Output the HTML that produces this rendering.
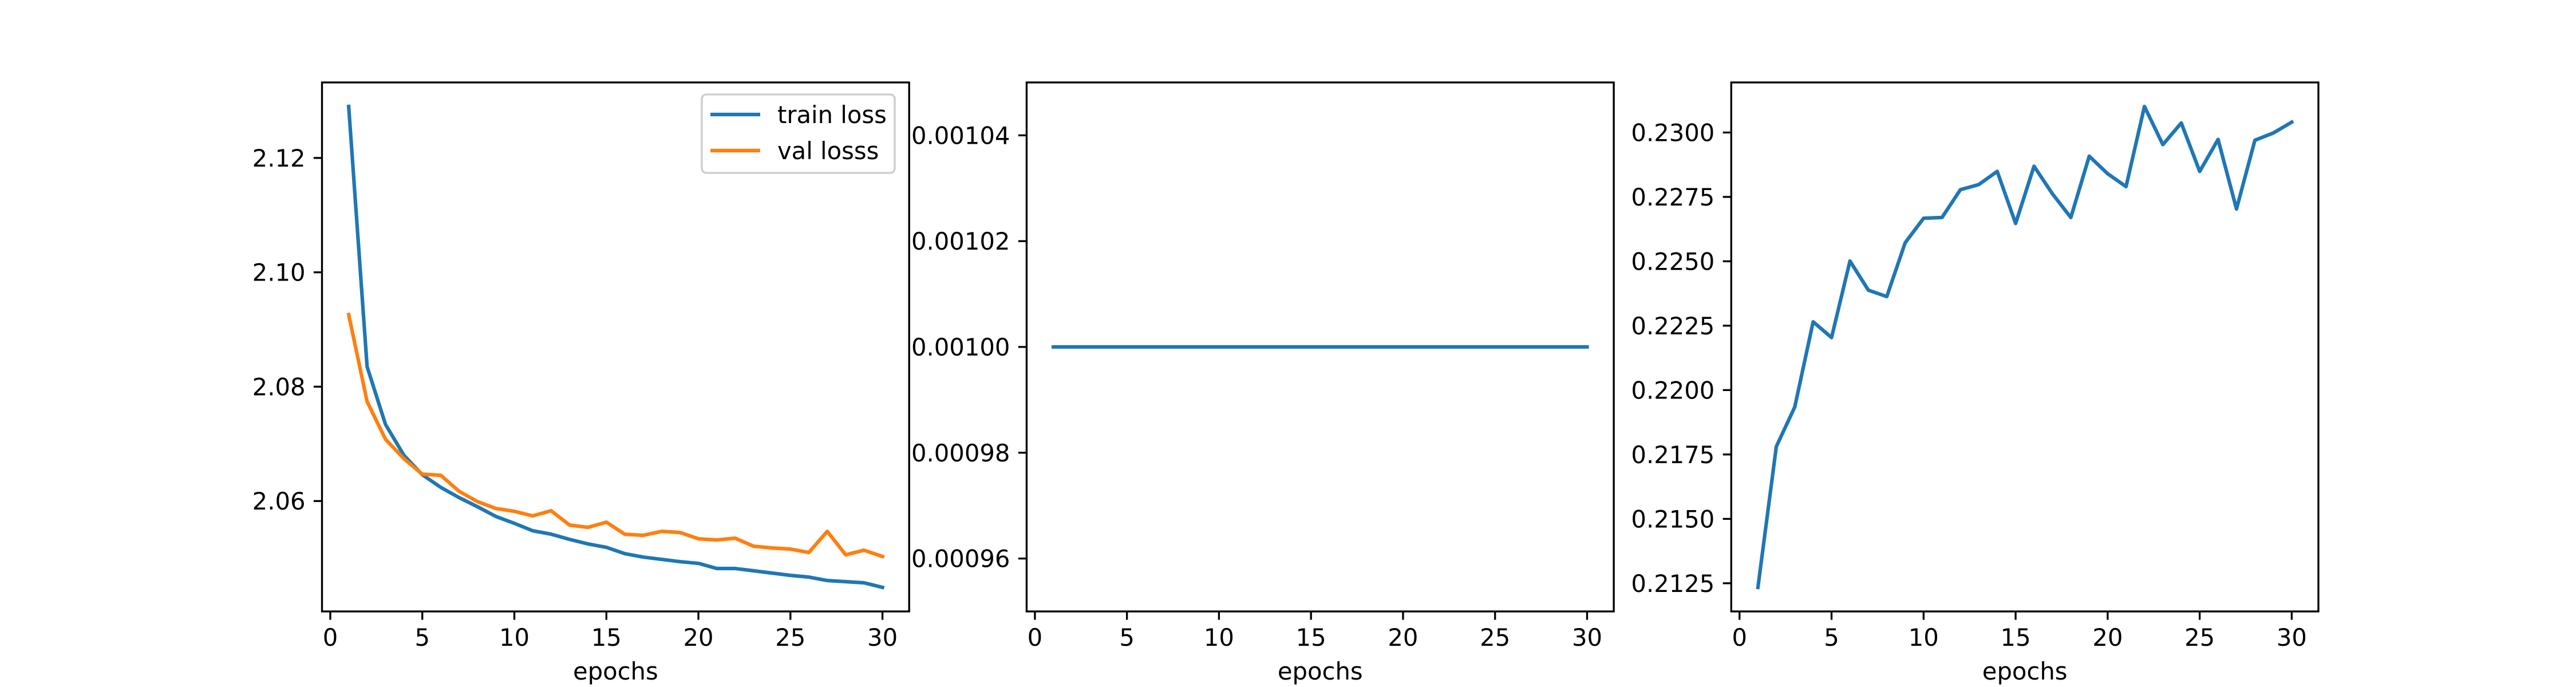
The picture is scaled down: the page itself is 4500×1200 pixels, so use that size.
<!DOCTYPE html>
<html><head><meta charset="utf-8"><style>
html,body{margin:0;padding:0;background:#fff;}
svg{display:block;}
text{font-family:"DejaVu Sans","Liberation Sans",sans-serif;font-size:41.7px;fill:#000;}
</style></head><body>
<svg id="chart" width="4500" height="1200" viewBox="0 0 4500 1200" xmlns="http://www.w3.org/2000/svg"></svg>
<script>
const epochs = Array.from({length:30},(_,i)=>i+1);
const trainLoss = [2.1290,2.0835,2.0734,2.0680,2.0646,2.0624,2.0606,2.0590,2.0573,2.0561,2.0548,2.0542,2.0533,2.0525,2.0519,2.0508,2.0502,2.0498,2.0494,2.0491,2.0482,2.0482,2.0478,2.0474,2.0470,2.0467,2.0461,2.0459,2.0457,2.0449];
const valLoss = [2.0926,2.0774,2.0708,2.0674,2.0647,2.0645,2.0617,2.0599,2.0587,2.0582,2.0574,2.0583,2.0558,2.0554,2.0563,2.0542,2.0540,2.0547,2.0545,2.0534,2.0532,2.0535,2.0521,2.0518,2.0516,2.0510,2.0547,2.0506,2.0514,2.0503];
const lrValues = Array(30).fill(0.001);
const accValues = [0.21234,0.21781,0.21934,0.22265,0.22204,0.22501,0.22388,0.22363,0.22572,0.22667,0.22670,0.22778,0.22798,0.22849,0.22647,0.22869,0.22762,0.22670,0.22908,0.22840,0.22790,0.23101,0.22953,0.23037,0.22849,0.22973,0.22703,0.22970,0.22998,0.23040];
const xTicks = [0,5,10,15,20,25,30];
const yTicks1 = [2.06,2.08,2.10,2.12];
const yTickLabels1 = ["2.06","2.08","2.10","2.12"];
const yTicks2 = [0.00096,0.00098,0.00100,0.00102,0.00104];
const yTickLabels2 = ["0.00096","0.00098","0.00100","0.00102","0.00104"];
const yTicks3 = [0.2125,0.2150,0.2175,0.2200,0.2225,0.2250,0.2275,0.2300];
const yTickLabels3 = ["0.2125","0.2150","0.2175","0.2200","0.2225","0.2250","0.2275","0.2300"];

const NS="http://www.w3.org/2000/svg";
const svg=document.getElementById('chart');
function mk(tag,attrs,parent){const e=document.createElementNS(NS,tag);for(const k in attrs)e.setAttribute(k,attrs[k]);(parent||svg).appendChild(e);return e;}

const TOP=144,BOT=1068;
const panels=[
 {left:562.5,right:1588.2,series:[{d:trainLoss,c:'#1f77b4',n:'train-loss-line'},{d:valLoss,c:'#ff7f0e',n:'val-loss-line'}],yt:yTicks1,yl:yTickLabels1,name:'loss-panel'},
 {left:1793.4,right:2819.1,series:[{d:lrValues,c:'#1f77b4',n:'learning-rate-line'}],yt:yTicks2,yl:yTickLabels2,name:'lr-panel'},
 {left:3024.3,right:4050,series:[{d:accValues,c:'#1f77b4',n:'accuracy-line'}],yt:yTicks3,yl:yTickLabels3,name:'accuracy-panel'}
];
panels.forEach(p=>{
  const g=mk('g',{});
  
  
  let all=[];p.series.forEach(s=>all=all.concat(s.d));
  let mn=Math.min(...all),mx=Math.max(...all);
  if(mx-mn<1e-12){mn=mn-0.05*Math.abs(mn);mx=mx+0.05*Math.abs(mx);}
  else{const r=mx-mn;mn-=0.05*r;mx+=0.05*r;}
  const x0=Math.min(...epochs),x1=Math.max(...epochs),xr=x1-x0;
  const xa=x0-0.05*xr,xb=x1+0.05*xr;
  const X=v=>p.left+(v-xa)/(xb-xa)*(p.right-p.left);
  const Y=v=>BOT-(v-mn)/(mx-mn)*(BOT-TOP);
  p.series.forEach(s=>{
    const pl=mk('polyline',{points:s.d.map((v,i)=>X(epochs[i]).toFixed(2)+','+Y(v).toFixed(2)).join(' '),fill:'none',stroke:s.c,'stroke-width':6.25,'stroke-linejoin':'round','stroke-linecap':'square'},g);
    
    
  });
  const fr=mk('rect',{x:p.left,y:TOP,width:p.right-p.left,height:BOT-TOP,fill:'none',stroke:'#000','stroke-width':3.33},g);
  
  
  xTicks.forEach(t=>{
    const x=X(t);
    mk('line',{x1:x,x2:x,y1:BOT,y2:BOT+14.6,stroke:'#000','stroke-width':3.33},g);
    const tx=mk('text',{x:x,y:1128,'text-anchor':'middle'},g);tx.textContent=t;
    
    
  });
  p.yt.forEach((t,i)=>{
    const y=Y(t);
    mk('line',{x1:p.left,x2:p.left-14.6,y1:y,y2:y,stroke:'#000','stroke-width':3.33},g);
    const tx=mk('text',{x:p.left-29,y:y+15,'text-anchor':'end'},g);tx.textContent=p.yl[i];
    
    
  });
  const xl=mk('text',{x:(p.left+p.right)/2,y:1187,'text-anchor':'middle'},g);xl.textContent='epochs';
  
  
});
// legend
const lg=mk('g',{});


mk('rect',{x:1226,y:165,width:337,height:137,rx:8,fill:'#fff','fill-opacity':0.8,stroke:'#cccccc','stroke-width':3.33},lg);
[['train loss','#1f77b4',200],['val losss','#ff7f0e',263]].forEach(([t,c,y])=>{
  mk('line',{x1:1241,x2:1328,y1:y,y2:y,stroke:c,'stroke-width':6.25},lg);
  const tx=mk('text',{x:1358,y:y+15},lg);tx.textContent=t;
  
  
});
</script>
</body></html>
